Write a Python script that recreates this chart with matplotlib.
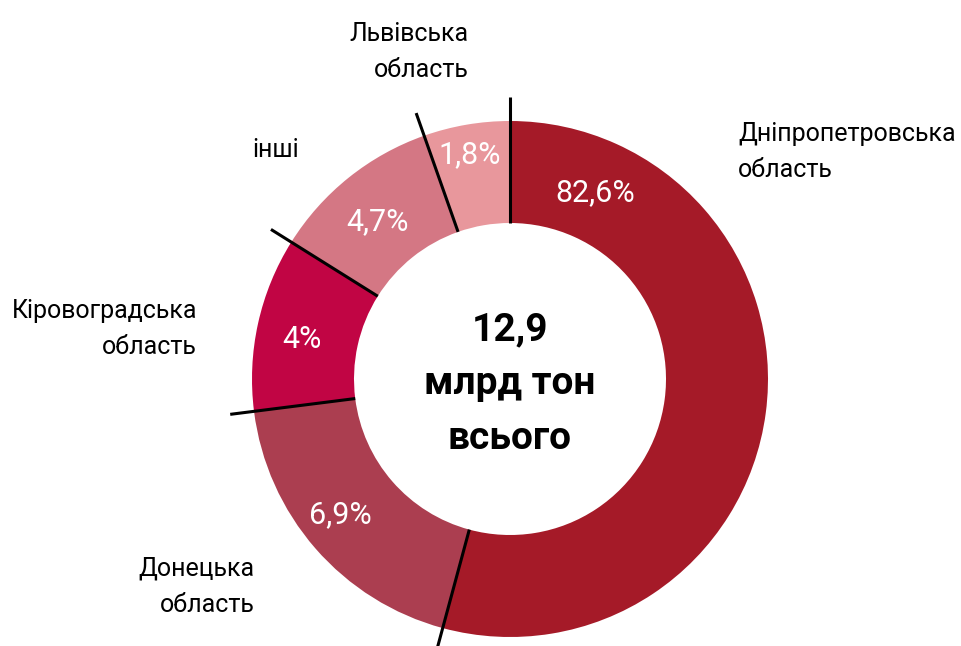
import matplotlib.pyplot as plt
import numpy as np

plt.rcParams['font.family'] = ['Roboto', 'DejaVu Sans']

regions = ['Дніпропетровська\nобласть', 'Донецька\nобласть', 'Кіровоградська\nобласть',
           'інші', 'Львівська\nобласть']
pct_labels = ['82,6%', '6,9%', '4%', '4,7%', '1,8%']
# the original graphic does not draw the slices to scale;
# these are the slice sizes (in % of the ring) as they appear in the picture
drawn_shares = [54.2, 18.8, 10.9, 10.7, 5.4]
colors = ['#A51A28', '#AB3E50', '#C10544', '#D47784', '#E8979C']
total_text = '12,9\nмлрд тон\nвсього'

W, H = 962, 646
fig = plt.figure(figsize=(W / 100, H / 100), dpi=100)
ax = fig.add_axes([0, 0, 1, 1])

cx, cy = 510, H - 379
r_out, r_in = 258, 156

ax.pie(drawn_shares, colors=colors, startangle=90, counterclock=False,
       center=(cx, cy), radius=r_out, frame=True,
       wedgeprops=dict(width=r_out - r_in, linewidth=0))
ax.set_xlim(0, W)
ax.set_ylim(0, H)
ax.set_aspect('equal')
ax.axis('off')

# separator lines at slice boundaries
bounds = 90 - 360 * np.cumsum([0] + drawn_shares[:-1]) / sum(drawn_shares)
for a in np.radians(bounds):
    ax.plot([cx + r_in * np.cos(a), cx + (r_out + 24) * np.cos(a)],
            [cy + r_in * np.sin(a), cy + (r_out + 24) * np.sin(a)],
            color='black', lw=2.2, solid_capstyle='butt', zorder=5)

# percentage labels (pixel positions from the reference)
pct_pos = [(595, 193), (340, 515), (302, 340), (378, 222), (470, 155)]
for (x, y), t in zip(pct_pos, pct_labels):
    ax.text(x, H - y, t, color='white', fontsize=22, ha='center', va='center', zorder=6)

# region labels
lab_pos = [(738, 152, 'left'), (255, 587, 'right'), (197, 329, 'right'),
           (252, 150, 'left'), (469, 52, 'right')]
for (x, y, ha), t in zip(lab_pos, regions):
    ax.text(x, H - y, t, color='black', fontsize=18, ha=ha, va='center',
            linespacing=1.65, zorder=6)

ax.text(cx, H - 384, total_text, fontsize=28, fontweight='bold', ha='center',
        va='center', linespacing=1.6, zorder=6)

fig.savefig('out.png', dpi=100)
